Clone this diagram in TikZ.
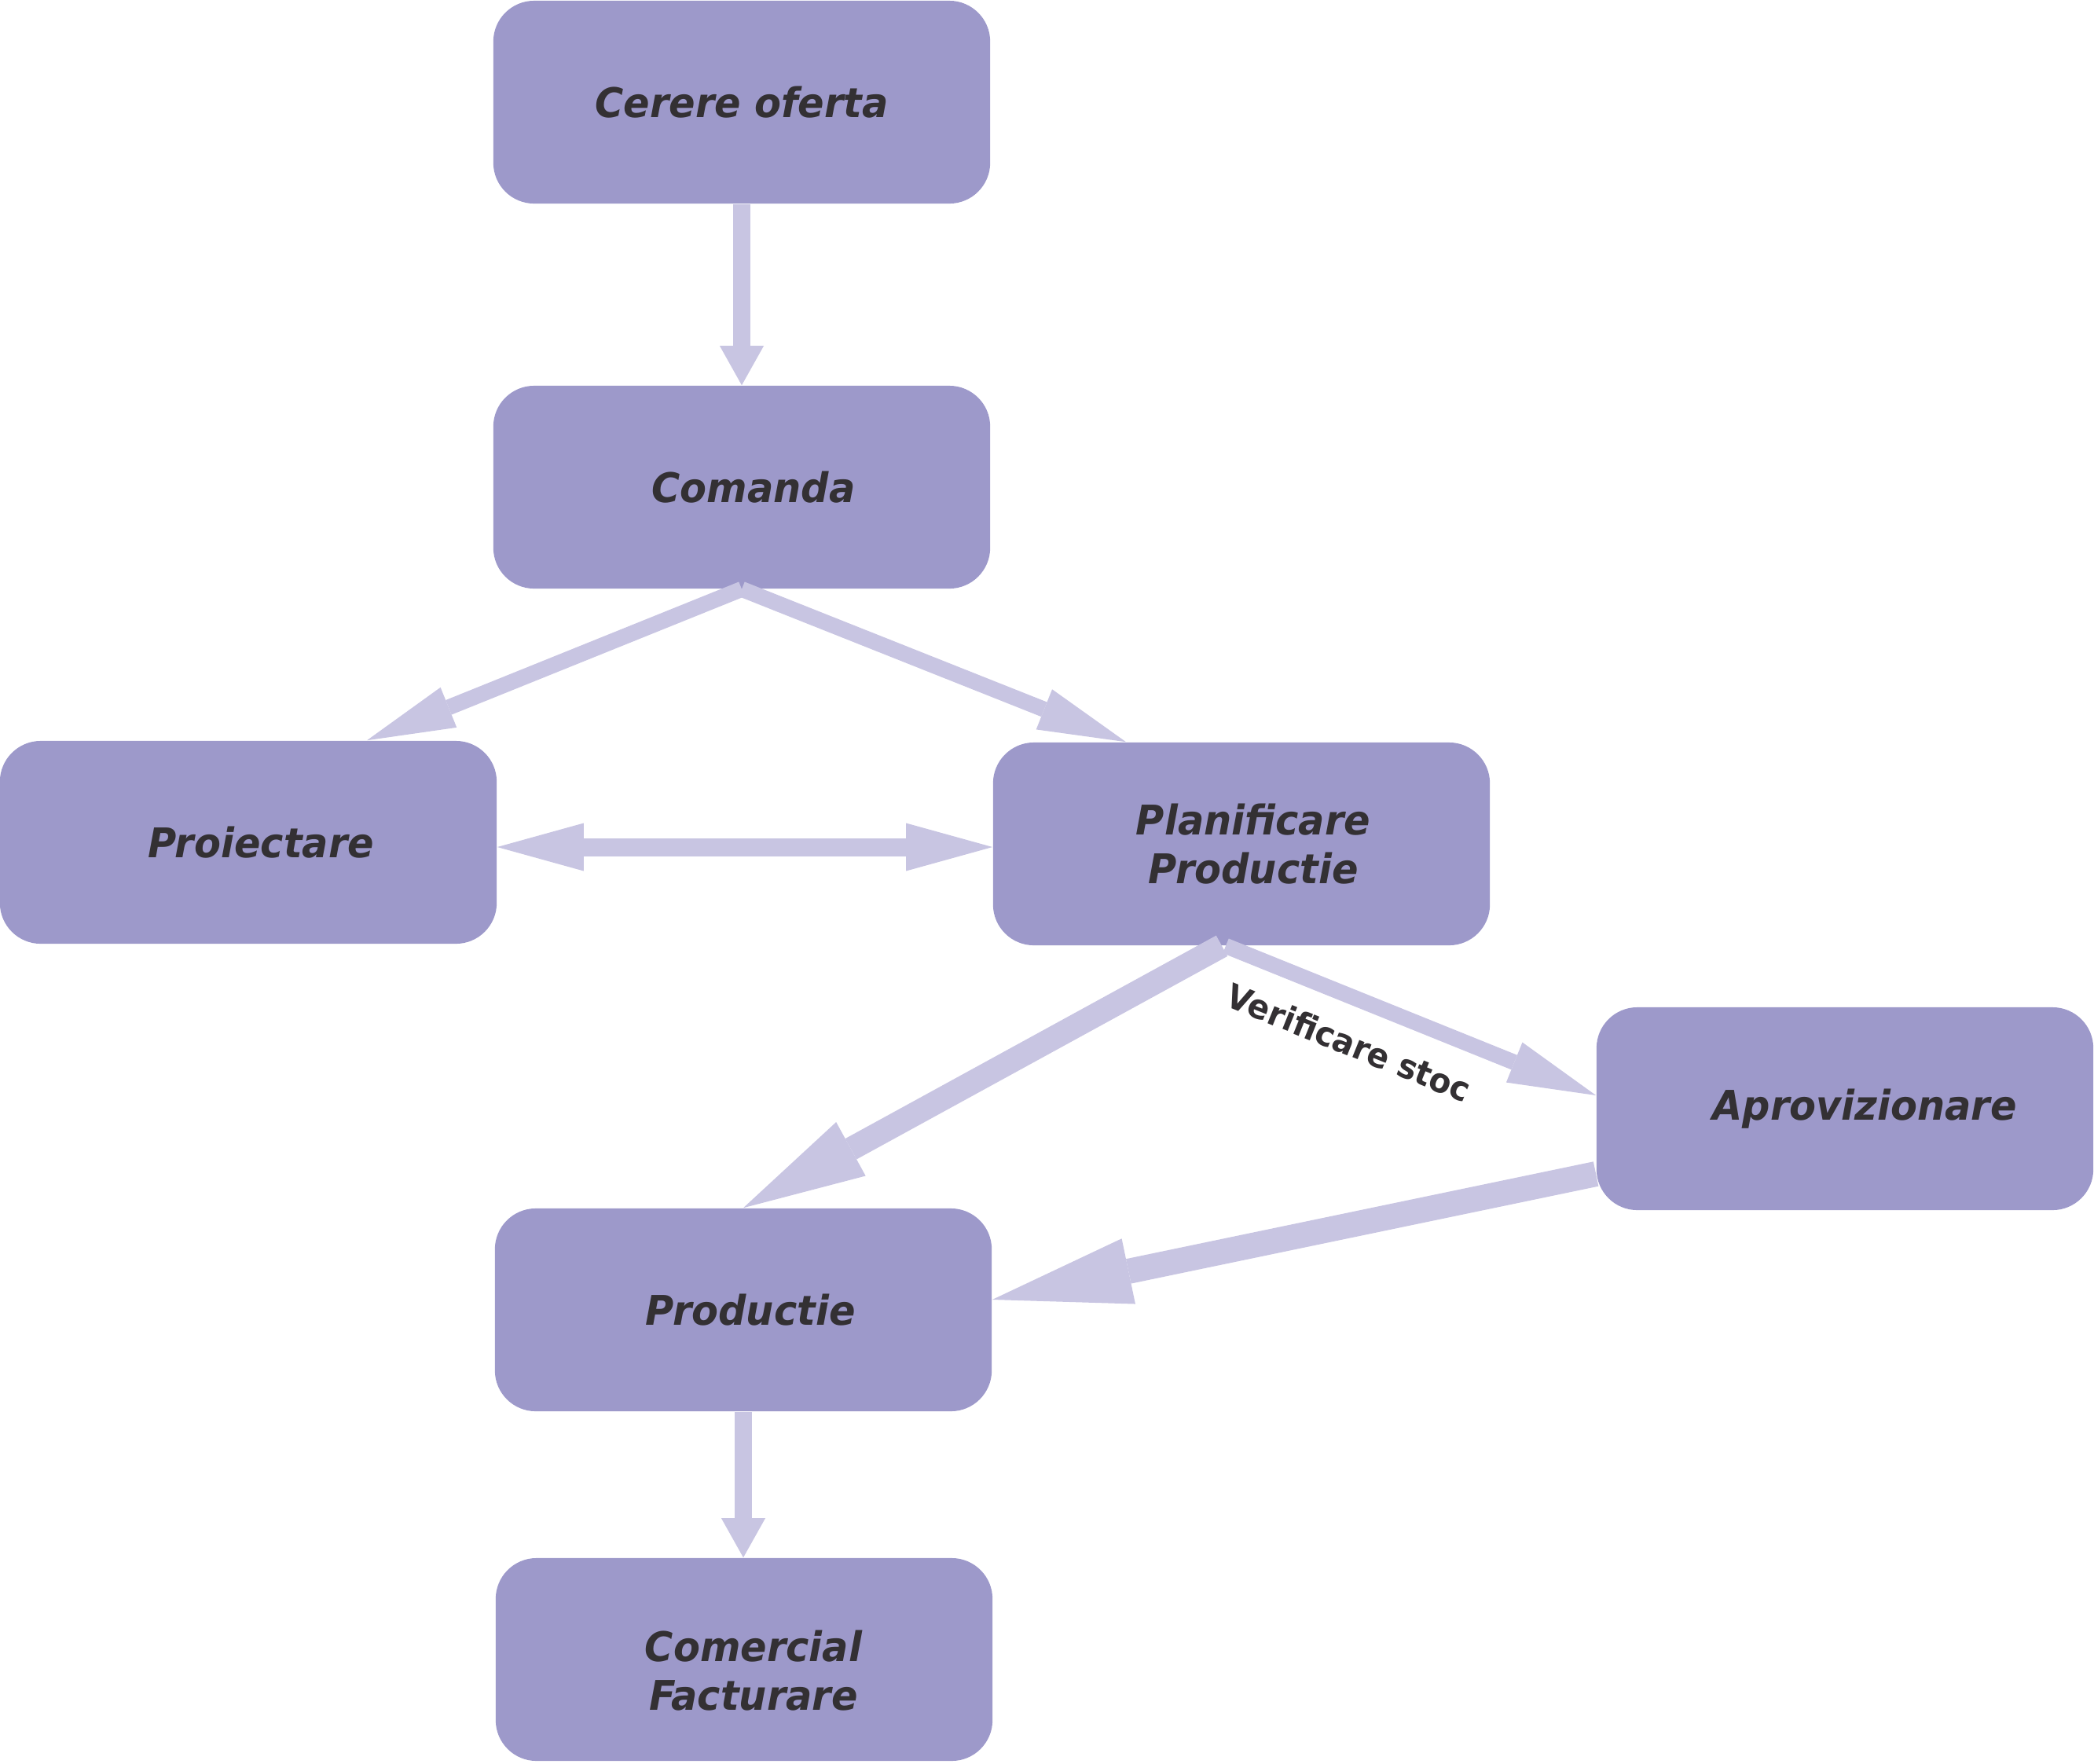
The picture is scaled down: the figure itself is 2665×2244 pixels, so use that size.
\documentclass[tikz,border=0pt]{standalone}
\usepackage{fontspec}
\setmainfont{DejaVu Sans}[FakeStretch=0.95]
\usetikzlibrary{arrows.meta,calc}
\definecolor{boxc}{HTML}{9D99CA}
\definecolor{arrc}{HTML}{C8C5E2}
\definecolor{txtc}{HTML}{333033}
\tikzset{
  ptxt/.style={inner sep=0pt, text=txtc,
    font=\fontsize{14.8pt}{17.8pt}\selectfont\bfseries\itshape, align=center},
  proc/.style={ptxt, rectangle, rounded corners=0.52cm, fill=boxc, draw=none,
    minimum width=6.32cm, minimum height=2.58cm},
  lbl/.style={text=txtc, inner sep=0pt, font=\fontsize{12.2pt}{14pt}\selectfont\bfseries},
  conn/.style={draw=arrc, line cap=butt},
  arrV/.style={conn, line width=0.22cm,
    -{Triangle[length=0.50cm 0 0, width=0.56cm 0 0, line width=0pt 0 0, fill=arrc]}},
  arrD/.style={conn, line width=0.20cm,
    -{Triangle[length=1.12cm 0 0, width=0.55cm 0 0, line width=0pt 0 0, fill=arrc]}},
  arrBoth/.style={conn, line width=0.23cm,
    {Triangle[length=1.10cm 0 0, width=0.61cm 0 0, line width=0pt 0 0, fill=arrc]}-{Triangle[length=1.10cm 0 0, width=0.61cm 0 0, line width=0pt 0 0, fill=arrc]}},
  arrThick/.style={conn, line width=0.30cm,
    -{Triangle[length=1.56cm 0 0, width=0.78cm 0 0, line width=0pt 0 0, fill=arrc]}},
  arrThicker/.style={conn, line width=0.32cm,
    -{Triangle[length=1.77cm 0 0, width=0.85cm 0 0, line width=0pt 0 0, fill=arrc]}},
}
\begin{document}
\begin{tikzpicture}[x=0.01cm,y=-0.01cm]
\useasboundingbox (0,0) rectangle (2665,2244);

\node[proc] (cerere) at (944,130) {Cerere oferta};
\node[proc] (comanda) at (944,620) {\hspace*{0.30cm}Comanda};
\node[proc] (proiectare) at (316,1072) {\hspace*{0.32cm}Proiectare};
\node[proc] (planif) at (1580,1074) {\hspace*{0.30cm}Planificare\\\hspace*{0.30cm}Productie};
\node[proc] (aprov) at (2348,1411) {\hspace*{0.50cm}Aprovizionare};
\node[proc] (productie) at (946,1667) {\hspace*{0.18cm}Productie};
\node[proc] (comercial) at (947,2112) {};
\node[ptxt] (comercialtxt) at ($(comercial.center)+(12,14)$) {Comercial\\Facturare};

\draw[arrV] (cerere.south) -- (comanda.north);
\draw[arrD] (comanda.south) -- ($(proiectare.north)+(151,0)$);
\draw[arrD] (comanda.south) -- ($(planif.north)+(-147,0)$);
\draw[arrBoth] ($(proiectare.east)+(0,6)$) -- ($(planif.west)+(0,4)$);
\draw[arrThick] ($(planif.south)+(-25,0)$) -- (productie.north);
\draw[arrD] ($(planif.south)+(-20,0)$) -- ($(aprov.west)+(0,-17)$);
\draw[arrThicker] ($(aprov.west)+(0,83)$) -- ($(productie.east)+(0,-13)$);
\draw[arrV] (productie.south) -- (productie.south |- comercial.north);

\node[lbl, rotate=-22] (stoc) at (1717,1327) {Verificare stoc};
\end{tikzpicture}
\end{document}
